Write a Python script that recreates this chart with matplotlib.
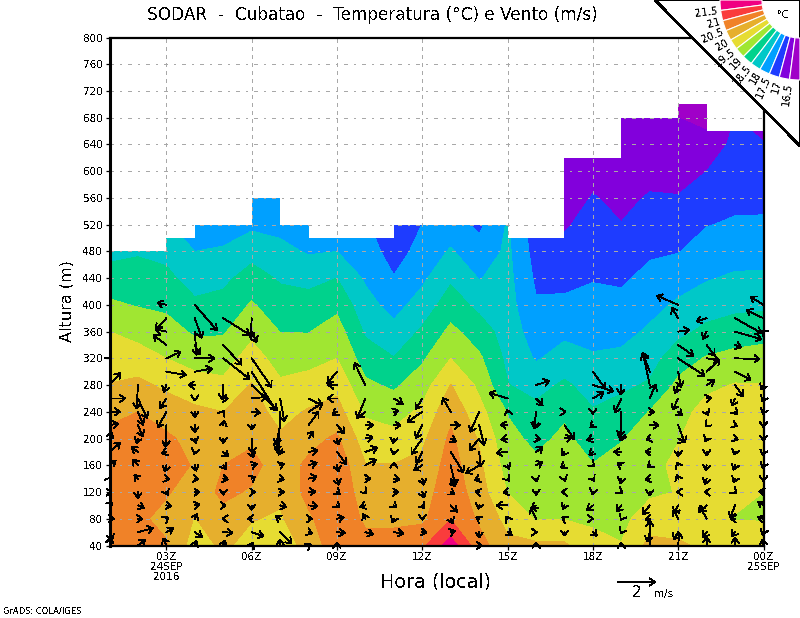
import numpy as np
import matplotlib
matplotlib.use("Agg")
import matplotlib.pyplot as plt
from matplotlib.patches import Polygon, Wedge

plt.rcParams['font.family'] = ['DejaVu Sans']
plt.rcParams['text.antialiased'] = False

# ---------- data ----------
hours = list(range(1, 25))
levels_m = list(range(40, 721, 40))
contour_levels = [16.5, 17, 17.5, 18, 18.5, 19, 19.5, 20, 20.5, 21, 21.5]
colors_cold_to_hot = ['#a000c8', '#8200dc', '#1e3cff', '#00a0ff', '#00c8c8', '#00d28c',
                      '#a0e632', '#e6dc32', '#e6af2d', '#f08228', '#fa3c3c', '#f00082']

temp_by_hour = [
 [20.7,20.8,20.85,20.8,20.65,20.35,20.02,19.75,19.5,19.08,18.72,18.35,18.1,17.9,17.8,17.7,17.6,17.5],
 [20.7,20.6,20.8,20.85,20.8,20.5,20.12,19.72,19.33,18.97,18.7,18.45,18.2,18.0,17.9,17.8,17.7,17.6],
 [20.55,20.35,20.55,20.75,20.58,20.28,19.9,19.5,19.2,18.9,18.63,18.35,18.05,17.9,17.8,17.7,17.6,17.5],
 [19.75,19.98,20.25,20.45,20.35,20.1,19.72,19.3,18.93,18.6,18.27,18.0,17.75,17.6,17.5,17.4,17.3,17.2],
 [20.1,20.35,20.6,20.5,20.3,20.0,19.62,19.27,18.95,18.67,18.38,18.05,17.8,17.7,17.6,17.5,17.4,17.3],
 [19.8,20.03,20.45,20.65,20.42,20.2,20.03,19.72,19.38,19.05,18.72,18.32,17.9,17.7,17.6,17.5,17.4,17.3],
 [19.7,19.93,20.12,20.25,20.07,19.84,19.58,19.3,18.99,18.72,18.44,18.14,17.85,17.7,17.6,17.5,17.4,17.3],
 [20.2,20.42,20.65,20.6,20.35,20.05,19.7,19.33,18.98,18.7,18.35,17.95,17.7,17.6,17.5,17.4,17.3,17.2],
 [20.8,20.85,20.9,20.85,20.58,20.2,19.85,19.5,19.22,18.88,18.5,18.0,17.7,17.6,17.5,17.4,17.3,17.2],
 [20.65,20.42,20.22,20.02,19.73,19.43,19.1,18.75,18.43,18.18,17.93,17.78,17.6,17.5,17.4,17.3,17.2,17.1],
 [20.65,20.42,20.22,20.02,19.65,19.3,18.92,18.52,18.15,17.82,17.53,17.26,17.0,16.9,16.8,16.7,16.6,16.5],
 [20.9,20.4,20.25,20.12,19.9,19.6,19.27,18.93,18.58,18.22,17.9,17.7,17.51,17.4,17.3,17.2,17.1,17.0],
 [21.75,20.98,20.85,20.72,20.6,20.37,20.02,19.5,19.12,18.75,18.42,18.05,17.75,17.6,17.5,17.4,17.3,17.2],
 [20.7,20.42,20.22,20.1,19.95,19.67,19.39,19.09,18.75,18.37,17.98,17.68,17.4,17.3,17.2,17.1,17.0,16.9],
 [20.12,19.83,19.48,19.3,19.15,18.97,18.52,18.38,18.28,18.2,18.15,18.1,18.05,18.0,17.95,17.9,17.85,17.8],
 [20.1,19.47,19.3,19.1,18.88,18.64,18.32,17.95,17.75,17.55,17.42,17.3,17.2,17.1,17.0,16.9,16.8,16.7],
 [20.08,19.48,19.35,19.2,19.1,18.92,18.58,18.22,17.88,17.6,17.36,17.12,16.95,16.85,16.75,16.65,16.6,16.55],
 [19.65,19.42,19.22,19.02,18.78,18.54,18.3,18.05,17.85,17.65,17.47,17.31,17.16,17.02,16.9,16.8,16.72,16.65],
 [19.52,19.38,19.25,19.12,18.98,18.7,18.4,18.1,17.86,17.64,17.42,17.2,17.01,16.92,16.84,16.76,16.7,16.65],
 [20.15,19.73,19.42,19.3,19.15,19.02,18.56,18.3,18.07,17.85,17.64,17.43,17.23,17.03,16.9,16.8,16.7,16.62],
 [20.08,19.72,19.52,19.65,19.47,19.3,19.11,18.78,18.37,18.08,17.78,17.48,17.25,17.02,16.86,16.68,16.5,16.35],
 [19.9,19.75,19.72,19.8,19.85,19.7,19.38,19.04,18.62,18.27,17.96,17.72,17.48,17.24,17.0,16.67,16.35,16.2],
 [19.8,19.48,19.6,19.75,19.8,19.72,19.53,19.15,18.75,18.37,18.07,17.8,17.56,17.38,17.25,17.14,17.0,16.9],
 [19.7,19.48,19.5,19.6,19.68,19.62,19.52,19.2,18.82,18.4,18.07,17.82,17.57,17.38,17.2,17.02,16.85,16.7],
]

# highest level with data in each one-hour column, 01-02 h ... 23-24 h
column_top_m = [480,480,500,520,520,560,520,500,500,500,520,520,520,520,500,500,620,620,680,680,700,660,660]

wind_levels_first_m = 40
wind_levels_step_m = 20
wind_reading_per_ms = 55.0
u_readings = [
 [3,8,15,10,8,3,20,33,8,28,33,48,33,None,5],
 [23,46,15,20,0,-12,-17,-20,-5,15,16,28,-4],
 [-10,22,8,17,5,10,-5,-15,-3,-1,-26,-20,-8,60,44,-40,-33,-33,-28],
 [6,23,8,16,16,12,5,-2,3,0,1,0,-20,53,60,15,5,21,67],
 [6,29,-4,9,0,16,9,16,0,3,3,16,-3,None,80,55,None,80],
 [5,37,-13,0,12,12,17,5,3,0,27,47,77,72,60,None,15,-3],
 [0,35,-15,20,13,13,13,-5,-15,-12,-4,13],
 [8,12,12,28,22,26,26,28,15,31,43,41],
 [0,25,22,8,10,5,5,29,5,23,-15,-30,-28,-30],
 [None,25,-8,-17,5,17,33,37,23,25,-23,-25,-33],
 [None,30,-5,8,15,18,0,-2,-2,22,15,28],
 [None,14,0,8,7,5,-26,-18,-33,-20,-45,-20],
 [None,14,7,20,12,15,14,39,17,29,-25],
 [10,0,-10,-3,-12,-15,-40,5,-30,15,-27],
 [None,14,-5,-34,-14,6,5,-34,-21,-22,-2,-56],
 [0,4,-16,-14,0,2,21,21,14,-3,-5,21,41],
 [None,0,-8,-5,-10,3,-12,-8,23,30,5],
 [None,13,2,-19,-2,5,5,-12,-19,-9,0,33,63,38],
 [0,-3,-3,-15,5,-3,-13,-23,-3,-5,0,-20,-3],
 [0,-8,-15,-22,0,-15,-8,-15,-12,28,15,18,-20,-22],
 [3,-15,-15,-13,-5,-5,-5,0,20,20,13,-17,-10,8,80,47,35,-20,-65],
 [0,-12,-22,-20,-8,-5,-3,0,-5,-5,5,15,25,40,40,25,-12,-32],
 [0,-10,-15,-15,6,-5,-5,-3,10,8,8,-10,25,48,75,20,80,80],
 [-3,-3,-18,-18,-15,0,-3,-3,0,0,-3,-5,-8,None,None,None,-5,-52,-40],
]
v_readings = [
 [25,-25,0,8,0,5,15,28,20,5,0,0,37,None,5],
 [17,12,0,-8,-20,12,18,15,-15,-35,-40,-60,-72],
 [23,13,5,-2,-10,-2,-20,-5,-27,-65,-48,-30,-22,-10,20,30,7,-35,7],
 [15,-15,15,3,0,-2,-18,-8,-15,-23,-18,-8,0,10,0,-30,-71,-60,-77],
 [17,-2,0,0,-10,-3,-13,-15,-15,15,5,0,-45,None,-63,-60,None,-50],
 [10,-13,0,-15,0,7,5,-18,-45,-15,-3,5,-76,-115,-87,None,-33,-60],
 [20,-35,8,-5,0,-3,5,-10,-35,-60,-128,-70],
 [5,-5,0,-3,2,7,8,5,23,42,27,-20],
 [10,-3,5,-8,-8,-20,-20,-38,-20,-25,-10,0,0,-35],
 [None,-7,15,-5,-5,0,18,13,5,0,-18,-60,67],
 [None,-5,-12,-8,0,-3,10,-10,-15,0,4,-17],
 [None,-2,-5,-10,-18,-20,-15,-35,-47,-40,-31,-33],
 [None,5,-15,-20,-8,-25,-62,-63,-10,0,43],
 [0,-18,6,-12,3,-5,-25,-45,-37,-60,-61],
 [None,-10,8,0,-3,-8,-12,-3,-3,2,8,17],
 [10,0,35,-10,-10,-10,10,15,-3,-10,-50,-22,13],
 [None,-12,5,-12,0,-8,-8,-12,5,-43,0],
 [None,-12,0,-15,-8,-8,-5,-10,-5,-8,-8,20,-19,-52],
 [10,-5,-5,-20,-3,-15,7,0,-8,-35,-85,-43,-30],
 [75,-30,-3,-28,-12,-3,-6,0,-3,0,0,43,94,58],
 [40,-23,27,-25,0,12,10,-15,-12,-53,-11,-35,-25,-47,-53,-33,5,33,28],
 [27,-17,40,-20,0,-18,-17,-12,-10,-5,-11,3,15,38,-5,-33,-23,-10],
 [25,-13,0,-38,-5,-12,-15,-10,-3,-3,-8,-23,-35,-25,-2,-8,-23,-45],
 [20,-10,5,12,2,-10,-10,-12,-8,-8,-8,-10,-15,None,None,None,5,25,25],
]

x_ticks = [3, 6, 9, 12, 15, 18, 21, 24]
x_tick_labels = ['03Z\n24SEP\n2016', '06Z', '09Z', '12Z', '15Z', '18Z', '21Z', '00Z\n25SEP']
y_ticks = list(range(40, 801, 40))
legend_labels = ['21.5', '21', '20.5', '20', '19.5', '19', '18.5', '18', '17.5', '17', '16.5']

# ---------- figure ----------
W, H = 800, 618
fig = plt.figure(figsize=(W / 100, H / 100), dpi=100, facecolor='white')
AX_L, AX_R, AX_T, AX_B = 109.5, 763.5, 37.5, 545.5
ax = fig.add_axes([AX_L / W, 1 - AX_B / H, (AX_R - AX_L) / W, (AX_B - AX_T) / H])
ax.set_xlim(1, 24)
ax.set_ylim(40, 800)

T = np.array(temp_by_hour).T
cs = ax.contourf(hours, levels_m, T, levels=contour_levels, colors=colors_cold_to_hot[1:-1],
                 extend='both', zorder=1, antialiased=False)
cs.cmap.set_under(colors_cold_to_hot[0])
cs.cmap.set_over(colors_cold_to_hot[-1])
cs.changed()

# keep only the part of the field below the stepped top of the measurements
verts = [(1, 40)]
for i, top in enumerate(column_top_m):
    verts += [(hours[i], top), (hours[i + 1], top)]
verts.append((24, 40))
clip = Polygon(verts, closed=True, transform=ax.transData, fc='none', ec='none')
ax.add_patch(clip)
cs.set_clip_path(clip)

# grid
grid_c = '#a8a8a8'
for yt in y_ticks[:-1]:
    ax.axhline(yt, color=grid_c, lw=0.75, ls=(0, (3.5, 6.5, 1.2, 6.5)), zorder=2, antialiased=False)
for xt in x_ticks[:-1]:
    ax.axvline(xt, color=grid_c, lw=0.75, ls=(0, (3, 4.5)), zorder=2, antialiased=False)

# wind arrows: tail on the grid point, 2 m/s = 37 px
PX_PER_MS = 37 / 2
hours_per_px = 23 / (AX_R - AX_L)
m_per_px = 760 / (AX_B - AX_T)
ARROW = dict(arrowstyle='->,head_length=0.36,head_width=0.26', color='black', lw=0.62,
             shrinkA=0, shrinkB=0, mutation_scale=10, antialiased=False)
for h, us, vs in zip(hours, u_readings, v_readings):
    for k, (u, v) in enumerate(zip(us, vs)):
        if u is None or v is None:
            continue
        level = wind_levels_first_m + k * wind_levels_step_m
        dx = u / wind_reading_per_ms * PX_PER_MS * hours_per_px
        dy = v / wind_reading_per_ms * PX_PER_MS * m_per_px
        ax.annotate('', xy=(h + dx, level + dy), xytext=(h, level), annotation_clip=False,
                    arrowprops=ARROW, zorder=3)

# frame and ticks
for side, lw in (('left', 2.2), ('bottom', 1.6), ('top', 1.6), ('right', 1.6)):
    ax.spines[side].set_linewidth(lw)
    ax.spines[side].set_zorder(4)
ax.set_xticks(x_ticks)
ax.set_xticklabels(x_tick_labels, fontsize=7.5, linespacing=1.0)
ax.set_yticks(y_ticks)
ax.set_yticklabels([str(v) for v in y_ticks], fontsize=7.5)
ax.tick_params(axis='both', direction='out', length=3, width=0.9, pad=2)
ax.set_xlabel('Hora (local)', fontsize=13.8, labelpad=0)
ax.xaxis.set_label_coords((436 - AX_L) / (AX_R - AX_L), -(582 - AX_B) / (AX_B - AX_T), transform=ax.transAxes)
ax.xaxis.label.set_va('center')
ax.set_ylabel('Altura (m)', fontsize=11.5)
ax.yaxis.set_label_coords(-(AX_L - 67) / (AX_R - AX_L), (AX_B - 301) / (AX_B - AX_T), transform=ax.transAxes)
ax.yaxis.label.set_va('center')

# pixel-space layer for the title, the reference arrow and the corner legend
ov = fig.add_axes([0, 0, 1, 1], zorder=10)
ov.set_xlim(0, W)
ov.set_ylim(H, 0)
ov.axis('off')
ov.patch.set_alpha(0)
ov.text(372, 15, 'SODAR  -  Cubatao  -  Temperatura (°C) e Vento (m/s)', ha='center', va='center', fontsize=12.2)
ov.text(3, 611, 'GrADS: COLA/IGES', ha='left', va='center', fontsize=6, color='black')
ov.annotate('', xy=(655.5, 582), xytext=(618, 582), arrowprops=ARROW)
ov.text(637, 592.5, '2', ha='center', va='center', fontsize=11)
ov.text(664, 594, 'm/s', ha='center', va='center', fontsize=7.5)

ov.add_patch(Polygon([(655, 0), (800, 146), (800, 0)], closed=True, fc='white', ec='black', lw=1.1, antialiased=False, zorder=1))
CX, CY, R_OUT, R_IN = 800, 0, 80, 38
STEP = 90 / len(colors_cold_to_hot)
for i, c in enumerate(colors_cold_to_hot[::-1]):
    ov.add_patch(Wedge((CX, CY), R_OUT, 180 - STEP * (i + 1), 180 - STEP * i, width=R_OUT - R_IN,
                       fc=c, ec='white', lw=0.8, zorder=2))
for i, lab in enumerate(legend_labels):
    th = STEP * (i + 1)
    r = R_OUT + 3
    ov.text(CX - r * np.cos(np.radians(th)), CY + r * np.sin(np.radians(th)), lab,
            rotation=th, rotation_mode='anchor', ha='right', va='center', fontsize=7.5, zorder=3)
ov.text(783, 15, '°C', ha='center', va='center', fontsize=7, zorder=3)

fig.savefig('out.png', dpi=100, facecolor='white')
